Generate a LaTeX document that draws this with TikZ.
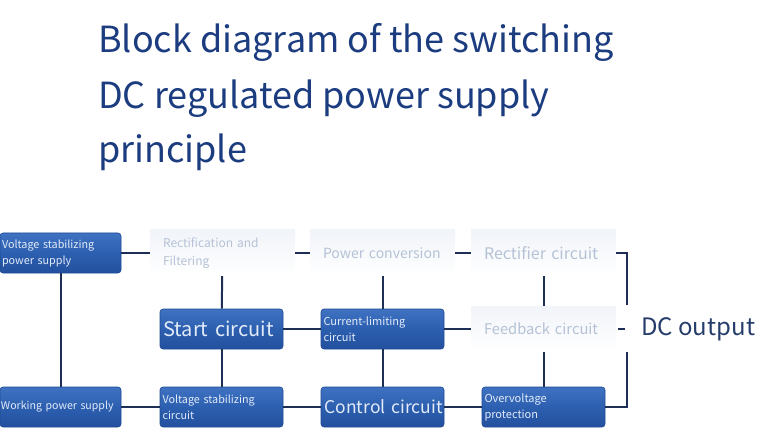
\documentclass[tikz,border=0pt]{standalone}
\usepackage{fontspec}
\setmainfont{Noto Sans CJK SC}
\definecolor{titleblue}{HTML}{1C3C80}
\definecolor{linenavy}{HTML}{1E2F55}
\definecolor{boxtop}{HTML}{4072C2}
\definecolor{boxmid}{HTML}{2D5FB0}
\definecolor{boxbot}{HTML}{23509E}
\definecolor{boxedge}{HTML}{1F4A94}
\definecolor{boxtext}{HTML}{E2EBF8}
\definecolor{fainttext}{HTML}{B5C2D6}
\definecolor{faintfill}{HTML}{F1F4F9}
\definecolor{dcblue}{HTML}{263D6C}
\begin{document}
\begin{tikzpicture}[x=1pt,y=-1pt,
  boxbase/.style={rounded corners=3pt, draw=boxedge, line width=0.6pt,
    top color=boxtop, bottom color=boxbot, middle color=boxmid,
    minimum height=40pt, minimum width=123pt, text=boxtext},
  darkbox/.style={boxbase, text width=118pt, inner xsep=2.5pt, inner ysep=2pt,
    align=left, font=\fontsize{10.8}{16}\selectfont},
  bigbox/.style={boxbase, text width=116pt, inner xsep=3.5pt, align=left,
    font=\fontsize{20}{24}\selectfont},
  faintbase/.style={draw=none, top color=faintfill, bottom color=white,
    minimum height=46pt, minimum width=145pt, text=fainttext,
    text width=119pt, inner xsep=13pt, align=left},
  faintbox/.style={faintbase, font=\fontsize{15}{20}\selectfont},
  faintsmall/.style={faintbase, font=\fontsize{12}{18}\selectfont},
  titletext/.style={anchor=base west, inner sep=0pt, text=titleblue,
    font=\fontsize{36}{44}\selectfont},
  wire/.style={draw=linenavy, line width=2pt}]
\useasboundingbox (0,0) rectangle (762,430);

% title
\node[titletext] (title1) at (98,53) {Block diagram of the switching};
\node[titletext] (title2) at (98,109) {DC regulated power supply};
\node[titletext] (title3) at (98,163) {principle};

% row 1
\node[darkbox, minimum width=121pt, text width=117pt, inner xsep=2pt] (vsps) at (60.5,253) {Voltage stabilizing\\power supply};
\node[faintsmall] (rect) at (222.5,253) {Rectification and\\Filtering};
\node[faintbox, font=\fontsize{14}{20}\selectfont] (power) at (382.5,253) {\mbox{Power conversion}};
\node[faintbox, font=\fontsize{16}{20}\selectfont] (rectifier) at (543.5,253) {\mbox{Rectifier circuit}};

% row 2
\node[bigbox] (start) at (221.5,329) {\mbox{Start circuit}};
\node[darkbox, font=\fontsize{11}{16}\selectfont] (cl) at (382.5,329) {Current-limiting\\circuit};
\node[faintbox, font=\fontsize{14.7}{20}\selectfont] (feedback) at (543.5,329) {\mbox{Feedback circuit}};

% row 3
\node[darkbox, minimum width=121pt, text width=119pt, inner xsep=1pt, font=\fontsize{10.6}{16}\selectfont] (wps) at (60.5,407) {\mbox{Working power supply}};
\node[darkbox] (vsc) at (221.5,407) {Voltage stabilizing\\circuit};
\node[bigbox, font=\fontsize{17.5}{24}\selectfont] (ctrl) at (382.5,407) {\mbox{Control circuit}};
\node[darkbox, font=\fontsize{11}{16}\selectfont] (ovp) at (543.5,407) {Overvoltage\\protection};

% output
\node[anchor=base west, inner sep=0pt, text=dcblue, font=\fontsize{24}{28}\selectfont] (dc) at (641,335) {DC output};

\coordinate (btop) at (627,253);
\coordinate (btopend) at (627,305);
\coordinate (bmid) at (625,329);
\coordinate (bbot) at (627,407);
\coordinate (bbotend) at (627,352);

% horizontal wires
\draw[wire] (vsps) -- (rect);
\draw[wire] (rect) -- (power);
\draw[wire] (power) -- (rectifier);
\draw[wire] (rectifier.east) -- (btop) -- (btopend);
\draw[wire] (start) -- (cl);
\draw[wire] (cl) -- (feedback);
\draw[wire] ([xshift=2pt]feedback.east) -- (bmid);
\draw[wire] (wps) -- (vsc);
\draw[wire] (vsc) -- (ctrl);
\draw[wire] (ctrl) -- (ovp);
\draw[wire] (ovp.east) -- (bbot) -- (bbotend);

% vertical wires
\draw[wire] (vsps) -- (wps);
\draw[wire] (rect) -- (start);
\draw[wire] (start) -- (vsc);
\draw[wire] (power) -- (cl);
\draw[wire] (cl) -- (ctrl);
\draw[wire] (rectifier) -- (feedback);
\draw[wire] (feedback) -- (ovp);
\end{tikzpicture}
\end{document}
